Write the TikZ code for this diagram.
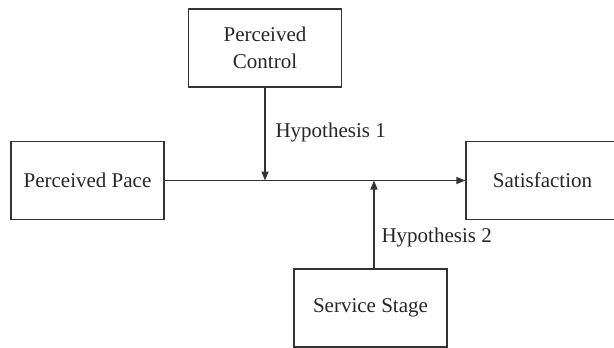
\documentclass[tikz,border=0pt]{standalone}
\usepackage{fontspec}
\setmainfont{Liberation Serif}
\usetikzlibrary{arrows.meta}

\tikzset{
  box/.style={draw=black!80, line width=1.3pt, minimum width=153pt, minimum height=78pt,
    align=center, text=black!85, font=\fontsize{21}{27}\selectfont},
  hyp/.style={anchor=west, text=black!85, font=\fontsize{21}{27}\selectfont},
  link/.style={draw=black!80, line width=1.3pt, -{Triangle[length=9pt,width=7pt]}}
}

\begin{document}
\begin{tikzpicture}[x=1pt, y=-1pt]
  \useasboundingbox (0,0) rectangle (614,348);

  \node [box] (ctrl)  at (265,48)    {Perceived\\Control};
  \node [box] (pace)  at (87.5,180.5) {Perceived Pace};
  \node [box] (sat)   at (542.5,180.5) {Satisfaction};
  \node [box] (stage) at (370.5,308) {Service Stage};

  \coordinate (h1) at (ctrl.south |- pace.east);
  \coordinate (h2) at (374,180.5);

  \draw [link] (pace.east) -- (sat.west);
  \draw [link] (ctrl.south) -- (h1);
  \draw [link] (stage.north -| h2) -- (h2);

  \node [hyp] (hyp1) at (272,132) {Hypothesis 1};
  \node [hyp] (hyp2) at (378,237) {Hypothesis 2};
\end{tikzpicture}
\end{document}
